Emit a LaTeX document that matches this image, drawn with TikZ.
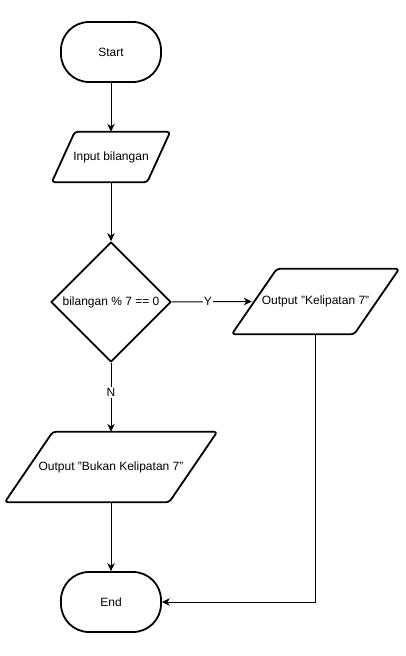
\documentclass[tikz,border=0pt]{standalone}
\usepackage{fontspec}
\setmainfont{Liberation Sans}
\usetikzlibrary{shapes.geometric,arrows.meta,calc}
\newcommand{\paraoutline}[2]{%
  \draw[shapeline, rounded corners=3pt] ($(#1.north west)+(#2,0)$) -- (#1.north east) -- ($(#1.south east)+(-#2,0)$) -- (#1.south west) -- cycle;}
\begin{document}
\begin{tikzpicture}[x=1pt,y=-1pt, font=\fontsize{12}{14}\selectfont,
  shapeline/.style={draw, line width=1.8pt, line join=round},
  term/.style={shapeline, rounded corners=28pt, minimum width=100pt, minimum height=60pt, inner sep=0pt},
  iobox/.style={inner sep=0pt},
  decision/.style={shapeline, diamond, minimum width=120pt, minimum height=120pt, inner sep=0pt},
  conn/.style={line width=1pt, -{Stealth[length=8pt,width=7.5pt,inset=2.5pt]}},
  lbl/.style={fill=white, inner sep=1pt}]
\useasboundingbox (0,0) rectangle (406,656);
\node[term] (start) at (111,52) {Start};
\node[iobox, minimum width=118pt, minimum height=50pt] (input) at (111,157) {Input bilangan};
\paraoutline{input}{23}
\node[decision] (dec) at (111,302) {bilangan \% 7 == 0};
\node[iobox, minimum width=167pt, minimum height=65pt] (yes) at (315.5,301.5) {Output "Kelipatan 7"};
\paraoutline{yes}{45}
\node[iobox, minimum width=212pt, minimum height=70pt] (no) at (111,467) {Output "Bukan Kelipatan 7"};
\paraoutline{no}{48}
\node[term] (end) at (111,602) {End};
\draw[conn] (start) -- (input);
\draw[conn] (input) -- (dec);
\draw[conn] (dec.east) -- node[lbl, pos=0.45] (ylab) {Y} ($(yes.west)+(20,0)$);
\draw[conn] (dec.south) -- node[lbl, pos=0.43] (nlab) {N} (no.north);
\draw[conn] (no) -- (end);
\draw[conn] (yes.south) |- (end.east);
\end{tikzpicture}
\end{document}
